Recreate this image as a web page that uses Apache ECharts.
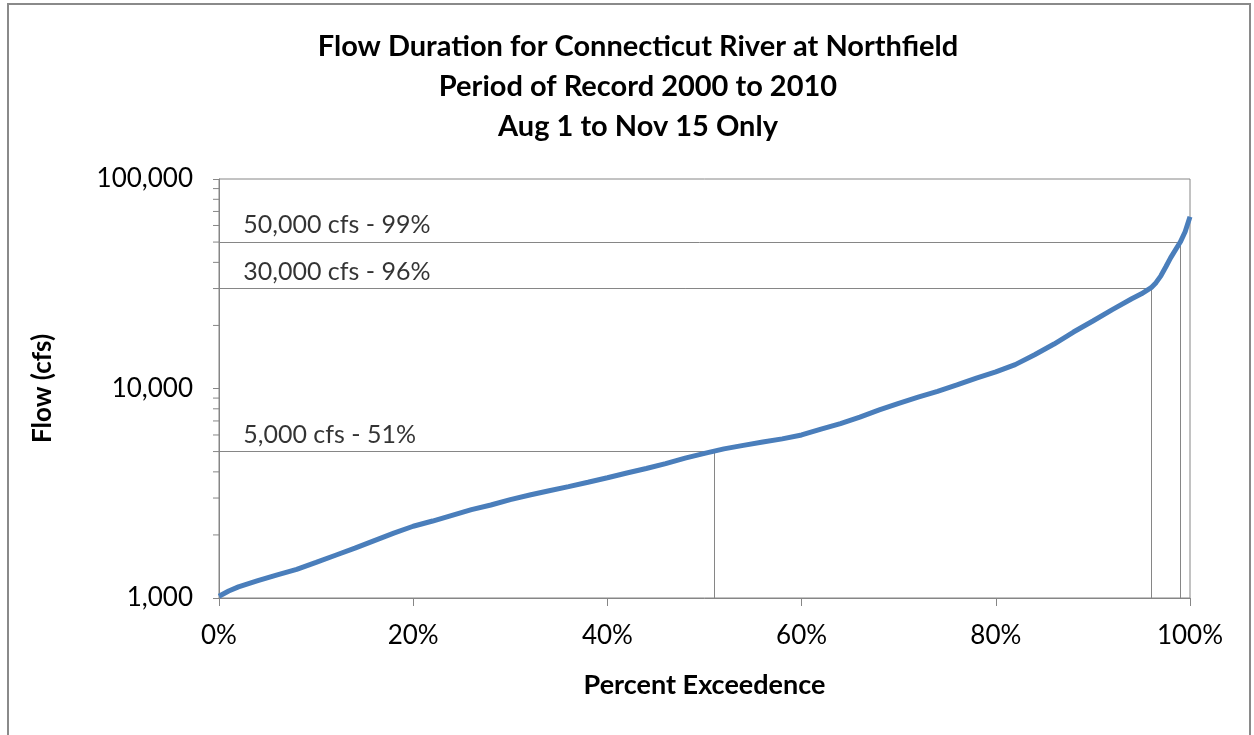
<!DOCTYPE html>
<html>
<head>
<meta charset="utf-8">
<script src="https://cdn.jsdelivr.net/npm/echarts@6/dist/echarts.min.js"></script>
<style>
	html, body { margin: 0; padding: 0; background: #fff; }
	#chart { width: 1254px; height: 735px; }
</style>
</head>
<body>
<div id="chart"></div>
<script>
// percent exceedence (x) and flow in cfs (y)
var pctData = [0, 1, 2, 4, 6, 8, 10, 12, 14, 16, 18, 20, 22, 24, 26, 28, 30, 32, 34, 36, 38, 40,
	42, 44, 46, 48, 50, 52, 54, 56, 58, 60, 62, 64, 66, 68, 70, 72, 74, 76, 78, 80,
	82, 84, 86, 88, 90, 92, 94, 95, 96, 96.5, 97, 97.5, 98, 99, 99.5, 100];
var flowData = [1020, 1080, 1130, 1210, 1290, 1370, 1480, 1600, 1730, 1880, 2040, 2200, 2330, 2480, 2640, 2780, 2950, 3100, 3250, 3400, 3570, 3750,
	3950, 4150, 4380, 4650, 4900, 5150, 5350, 5550, 5750, 6000, 6400, 6800, 7300, 7900, 8500, 9100, 9700, 10400, 11200, 12000,
	13000, 14500, 16300, 18600, 21000, 23800, 26800, 28300, 30300, 32000, 34500, 38000, 42000, 50000, 56000, 66000];

// reference flows and their exceedence
var refFlows = [50000, 30000, 5000];
var refPct = [99, 96, 51];
var refLabels = ['50,000 cfs - 99%', '30,000 cfs - 96%', '5,000 cfs - 51%'];

// log axis minor ticks
var minorTicks = [2000, 3000, 4000, 5000, 6000, 7000, 8000, 9000,
	20000, 30000, 40000, 50000, 60000, 70000, 80000, 90000];

var font = 'Lato, "Open Sans", sans-serif';
var gray = '#868686';

var myChart = echarts.init(document.getElementById('chart'));

var lineData = pctData.map(function (p, i) { return [p, flowData[i]]; });

var markData = [];
refFlows.forEach(function (f, i) {
	markData.push([{ coord: [0, f] }, { coord: [refPct[i], f] }]);
	markData.push([{ coord: [refPct[i], f] }, { coord: [refPct[i], 1000] }]);
});

myChart.setOption({
	animation: false,
	title: {
		text: 'Flow Duration for Connecticut River at Northfield\nPeriod of Record 2000 to 2010\nAug 1 to Nov 15 Only',
		left: 633,
		top: 22,
		textAlign: 'center',
		textStyle: {
			fontFamily: font,
			fontSize: 29,
			fontWeight: 'bold',
			color: '#000',
			lineHeight: 40
		}
	},
	graphic: [{
		type: 'rect',
		shape: { x: 8, y: 4, width: 1242, height: 800 },
		style: { fill: 'none', stroke: '#8a8a8a', lineWidth: 2 },
		silent: true
	}],
	grid: {
		left: 219,
		right: 64,
		top: 179,
		bottom: 137,
		show: true,
		borderColor: gray,
		borderWidth: 1
	},
	xAxis: {
		type: 'value',
		min: 0,
		max: 100,
		interval: 20,
		name: 'Percent Exceedence',
		nameLocation: 'middle',
		nameGap: 74,
		nameTextStyle: { fontFamily: font, fontSize: 27, fontWeight: 'bold', color: '#000' },
		axisLine: { lineStyle: { color: gray } },
		axisTick: { show: true, length: 8, lineStyle: { color: gray } },
		axisLabel: { formatter: '{value}%', fontFamily: font, fontSize: 26, color: '#000', margin: 25 },
		splitLine: { show: false }
	},
	yAxis: {
		type: 'log',
		logBase: 10,
		min: 1000,
		max: 100000,
		name: 'Flow (cfs)',
		nameLocation: 'middle',
		nameGap: 163,
		nameRotate: 90,
		nameTextStyle: { fontFamily: font, fontSize: 26, fontWeight: 'bold', color: '#000' },
		axisLine: { show: true, lineStyle: { color: gray } },
		axisTick: { show: true, length: 6, lineStyle: { color: gray } },
		axisLabel: {
			fontFamily: font, fontSize: 26, color: '#000', margin: 26,
			formatter: function (v) { return v.toLocaleString('en-US'); }
		},
		splitLine: { show: false }
	},
	series: [
		{
			type: 'line',
			data: lineData,
			showSymbol: false,
			symbol: 'none',
			lineStyle: { color: '#4a7ebb', width: 5 },
			z: 5,
			markLine: {
				silent: true,
				symbol: ['none', 'none'],
				label: { show: false },
				lineStyle: { color: gray, width: 1, type: 'solid' },
				data: markData
			}
		},
		{
			type: 'scatter',
			symbolSize: 0,
			data: refFlows.map(function (f, i) { return { value: [2.5, f], label: { formatter: refLabels[i] } }; }),
			label: {
				show: true,
				position: 'right',
				distance: 0,
				offset: [0, -17],
				fontFamily: font,
				fontSize: 25,
				color: '#000'
			},
			z: 6
		},
		{
			type: 'custom',
			clip: false,
			data: minorTicks.map(function (v) { return [0, v]; }),
			renderItem: function (params, api) {
				var p = api.coord([api.value(0), api.value(1)]);
				return {
					type: 'line',
					shape: { x1: p[0] - 6, y1: p[1], x2: p[0], y2: p[1] },
					style: { stroke: gray, lineWidth: 1 }
				};
			},
			z: 4
		}
	]
});
</script>
</body>
</html>
